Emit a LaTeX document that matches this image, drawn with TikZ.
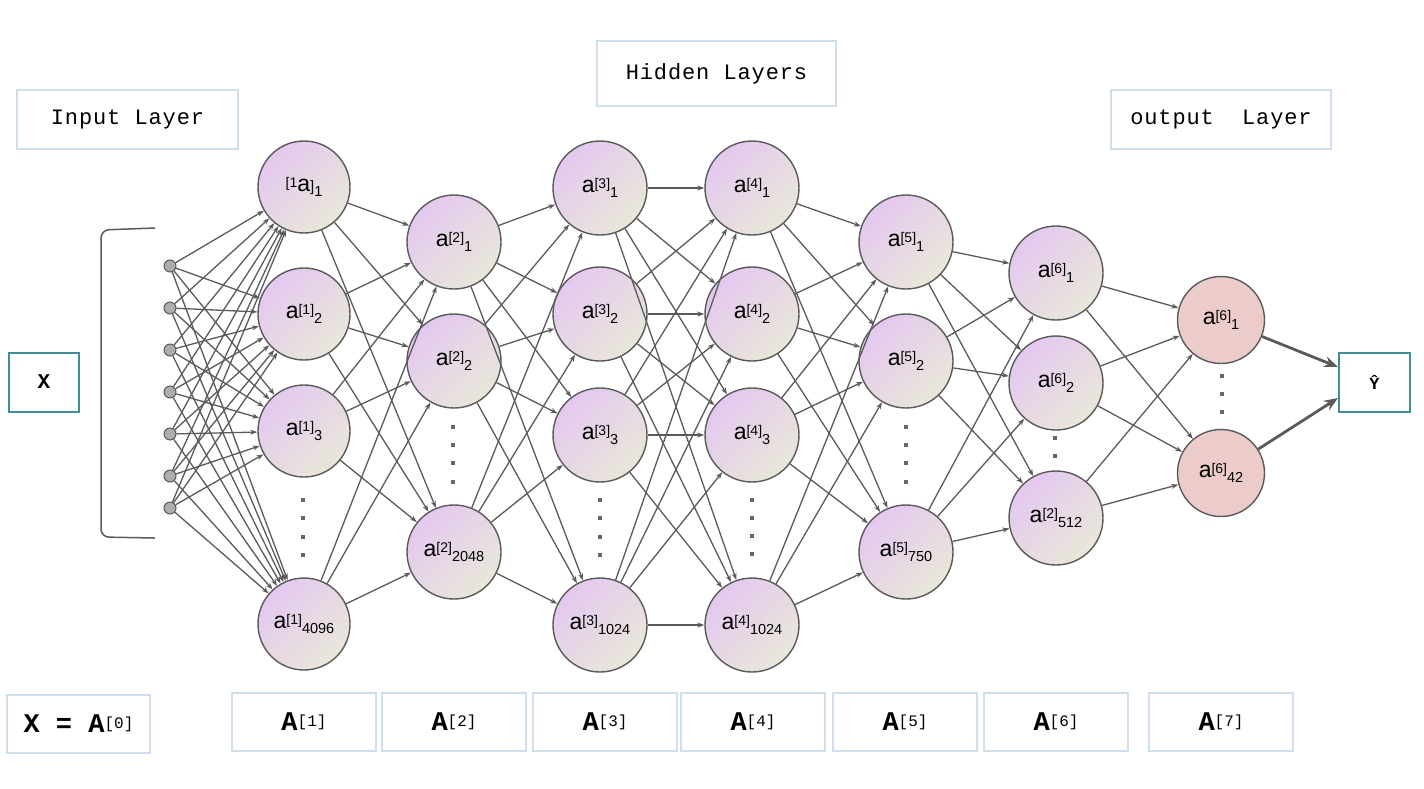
\documentclass[tikz,border=0pt]{standalone}
\usepackage{fontspec}
\setmainfont{Liberation Sans}
\newfontfamily\monosp{Liberation Mono}[LetterSpace=4]
\newfontfamily\monoplain{Liberation Mono}
\usetikzlibrary{arrows.meta,calc}
\definecolor{edgecol}{HTML}{5A5A5A}
\definecolor{lavender}{HTML}{E4C8F0}
\definecolor{beige}{HTML}{E9E7D9}
\definecolor{pinkout}{HTML}{EBCCCB}
\definecolor{boxblue}{HTML}{CFDDEC}
\definecolor{teal}{HTML}{3F8E98}
\definecolor{inpgray}{HTML}{ADADAD}
\definecolor{dotgray}{HTML}{666666}
\newcommand{\nlab}[2]{a\raisebox{4pt}{\fontsize{14}{14}\selectfont[#1]}\raisebox{-4.5pt}{\fontsize{14.5}{14.5}\selectfont #2}}
\newcommand{\blab}[1]{{\bfseries A}\raisebox{4.5pt}{\fontsize{16}{16}\selectfont\mdseries[#1]}}
\begin{document}
\begin{tikzpicture}[x=1pt,y=-1pt,
  neuron/.style={circle, draw=edgecol, line width=1.4pt, minimum size=94pt, inner sep=0pt,
    top color=lavender, bottom color=beige, shading angle=45,
    font=\fontsize{23}{23}\selectfont},
  outneuron/.style={circle, draw=edgecol, line width=1.4pt, minimum size=87pt, inner sep=0pt,
    fill=pinkout, font=\fontsize{23}{23}\selectfont},
  inp/.style={circle, draw=edgecol, line width=1pt, fill=inpgray, minimum size=12pt, inner sep=0pt},
  conn/.style={draw=edgecol, line width=1.3pt, -{Stealth[length=7pt,width=5pt]}},
  thickconn/.style={draw=edgecol, line width=2.8pt, -{Stealth[length=14pt,width=11pt]}},
  lbox/.style={draw=boxblue, line width=1.5pt, inner sep=0pt},
  tbox/.style={draw=teal, line width=2pt, inner sep=0pt, fill=white},
  toplab/.style={lbox, font=\monosp\fontsize{22}{22}\selectfont},
  botlab/.style={lbox, minimum width=144pt, minimum height=58pt, font=\monoplain\fontsize{27}{27}\selectfont},
  dotsq/.style={fill=dotgray}
]
\path[use as bounding box] (0,0) rectangle (1424,788);

% header labels
\node[toplab, minimum width=221pt, minimum height=59pt] (inlab) at (127.5,119.5) {Input Layer};
\node[toplab, minimum width=239pt, minimum height=65pt] (hidlab) at (716.5,73.5) {Hidden Layers};
\node[toplab, minimum width=220pt, minimum height=59pt] (outlab) at (1221,119.5) {output\ \ Layer};

% bottom labels
\node[botlab, minimum width=143pt] (b0) at (78.5,724) {\bfseries X = \blab{0}};
\node[botlab] (b1) at (304,722) {\blab{1}};
\node[botlab] (b2) at (454,722) {\blab{2}};
\node[botlab] (b3) at (605,722) {\blab{3}};
\node[botlab] (b4) at (753,722) {\blab{4}};
\node[botlab] (b5) at (905,722) {\blab{5}};
\node[botlab] (b6) at (1056,722) {\blab{6}};
\node[botlab] (b7) at (1221,722) {\blab{7}};

% X and Y-hat boxes
\node[tbox, minimum width=70pt, minimum height=59pt, font=\monoplain\bfseries\fontsize{21}{21}\selectfont] (xin) at (44,382) {X};
\node[tbox, minimum width=71pt, minimum height=59pt, font=\monoplain\bfseries\fontsize{17}{17}\selectfont] (yhat) at (1374.5,382.5) {Ŷ};

% bracket
\draw[edgecol, line width=1.5pt, rounded corners=8pt] (155,228) -- (101,230) -- (101,537) -- (155,538);

% inputs
\foreach \i/\yy in {1/266,2/308,3/350,4/392,5/434,6/476,7/508}
  \node[inp] (I\i) at (170,\yy) {};

% layer 1
\node[neuron, minimum size=92pt] (A1) at (304,187) {\raisebox{4pt}{\fontsize{14}{14}\selectfont[1}a{\fontsize{15}{15}\selectfont]}\raisebox{-4.5pt}{\fontsize{14.5}{14.5}\selectfont 1}};
\node[neuron, minimum size=92pt] (A2) at (304,314) {\nlab{1}{2}};
\node[neuron, minimum size=92pt] (A3) at (304,431) {\nlab{1}{3}};
\node[neuron, minimum size=92pt] (A4) at (304,624) {\nlab{1}{4096}};
% layer 2
\node[neuron] (B1) at (454,242) {\nlab{2}{1}};
\node[neuron] (B2) at (454,361) {\nlab{2}{2}};
\node[neuron] (B3) at (454,552) {\nlab{2}{2048}};
% layer 3
\node[neuron] (C1) at (600,188) {\nlab{3}{1}};
\node[neuron] (C2) at (600,314) {\nlab{3}{2}};
\node[neuron] (C3) at (600,435) {\nlab{3}{3}};
\node[neuron] (C4) at (600,625) {\nlab{3}{1024}};
% layer 4
\node[neuron] (D1) at (752,188) {\nlab{4}{1}};
\node[neuron] (D2) at (752,314) {\nlab{4}{2}};
\node[neuron] (D3) at (752,435) {\nlab{4}{3}};
\node[neuron] (D4) at (752,625) {\nlab{4}{1024}};
% layer 5
\node[neuron] (E1) at (906,242) {\nlab{5}{1}};
\node[neuron] (E2) at (906,361) {\nlab{5}{2}};
\node[neuron] (E3) at (906,552) {\nlab{5}{750}};
% layer 6
\node[neuron] (F1) at (1056,273) {\nlab{6}{1}};
\node[neuron] (F2) at (1056,383) {\nlab{6}{2}};
\node[neuron] (F3) at (1056,518) {\nlab{2}{512}};
% output layer
\node[outneuron] (G1) at (1221,320) {\nlab{6}{1}};
\node[outneuron] (G2) at (1221,473) {\nlab{6}{42}};

% connections
\foreach \p in {1,...,7}{\foreach \q in {1,...,4}{\draw[conn] (I\p) -- (A\q);}}
\foreach \p in {1,...,4}{\foreach \q in {1,...,3}{\draw[conn] (A\p) -- (B\q);}}
\foreach \p in {1,...,3}{\foreach \q in {1,...,4}{\draw[conn] (B\p) -- (C\q);}}
\foreach \p in {1,...,4}{\foreach \q in {1,...,4}{\draw[conn] (C\p) -- (D\q);}}
\foreach \p in {1,...,4}{\foreach \q in {1,...,3}{\draw[conn] (D\p) -- (E\q);}}
\foreach \p in {1,...,3}{\foreach \q in {1,...,3}{\draw[conn] (E\p) -- (F\q);}}
\foreach \p in {1,...,3}{\foreach \q in {1,...,2}{\draw[conn] (F\p) -- (G\q);}}
\draw[thickconn] (G1) -- (yhat.157);
\draw[thickconn] (G2) -- (yhat.203);

% ellipsis dots
\foreach \xx/\ylist in {303/{500,518,537,555}, 453/{427,445,463,482}, 600/{500,518,537,555},
   752/{500,518,536,554}, 906/{427,445,463,482}, 1055/{438,456}, 1222/{376,394,412}}{
  \foreach \yy in \ylist {\fill[dotsq] (\xx-2.2,\yy-2.2) rectangle ++(4.4,4.4);}
}
\end{tikzpicture}
\end{document}
